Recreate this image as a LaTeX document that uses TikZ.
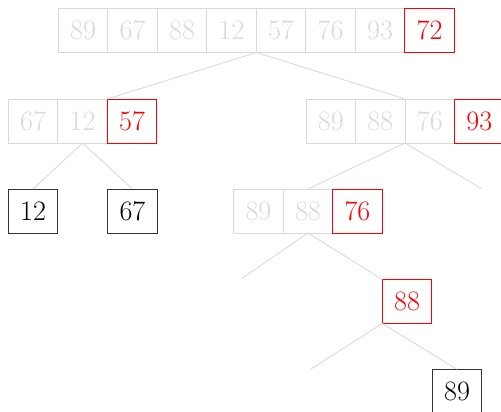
\documentclass[tikz,border=0pt]{standalone}
\usepackage{tikz}
\usetikzlibrary{positioning}
\definecolor{PaleGray}{HTML}{D9D9D9}
\definecolor{PivotRed}{HTML}{FF0000}
\definecolor{DoneBlack}{HTML}{333333}
\tikzset{
  cell/.style={draw=PaleGray,text=PaleGray,minimum width=.99cm,minimum height=.88cm,
    inner sep=0pt,outer sep=0pt,font=\fontsize{16}{19}\selectfont,line width=.5pt},
  pivot/.style={cell,draw=PivotRed,text=PivotRed},
  sorted/.style={cell,draw=DoneBlack,text=black},
  branch/.style={PaleGray,line width=.5pt}
}
\begin{document}
\begin{tikzpicture}[x=1cm,y=1cm]
    \useasboundingbox (0,0) rectangle (10.02,8.24);
    % whole array, pivot 72
    \foreach \v [count=\i] in {89,67,88,12,57,76,93}
      \node[cell] (t\i) at ({.671+.99*\i},7.63) {\v};
    \node[pivot] (t8) at (8.591,7.63) {72};
    % left part, pivot 57
    \foreach \v [count=\i] in {67,12}
      \node[cell] (l\i) at ({-.329+.99*\i},5.82) {\v};
    \node[pivot] (l3) at (2.641,5.82) {57};
    % right part, pivot 93
    \foreach \v [count=\i] in {89,88,76}
      \node[cell] (r\i) at ({5.625+.99*\i},5.82) {\v};
    \node[pivot] (r4) at (9.585,5.82) {93};
    \node[sorted] (a) at (.661,4.02) {12};
    \node[sorted] (b) at (2.649,4.02) {67};
    % pivot 76
    \foreach \v [count=\i] in {89,88}
      \node[cell] (m\i) at ({4.179+.99*\i},4.02) {\v};
    \node[pivot] (m3) at (7.149,4.02) {76};
    \node[pivot] (n) at (8.141,2.21) {88};
    \node[sorted] (z) at (9.141,.414) {89};
    % empty branches
    \coordinate (e1) at (9.64,4.46);
    \coordinate (e2) at (4.82,2.66);
    \coordinate (e3) at (6.22,.86);
    \draw[branch] (t4.south east) -- (l3.north west);
    \draw[branch] (t4.south east) -- (r3.north west);
    \draw[branch] (l2.south) -- (a.north);
    \draw[branch] (l2.south) -- (b.north);
    \draw[branch] (r2.south east) -- (m2.north);
    \draw[branch] (r2.south east) -- (e1);
    \draw[branch] (m2.south) -- (e2);
    \draw[branch] (m2.south) -- (n.north west);
    \draw[branch] (n.south west) -- (e3);
    \draw[branch] (n.south west) -- (z.north);
\end{tikzpicture}
\end{document}
